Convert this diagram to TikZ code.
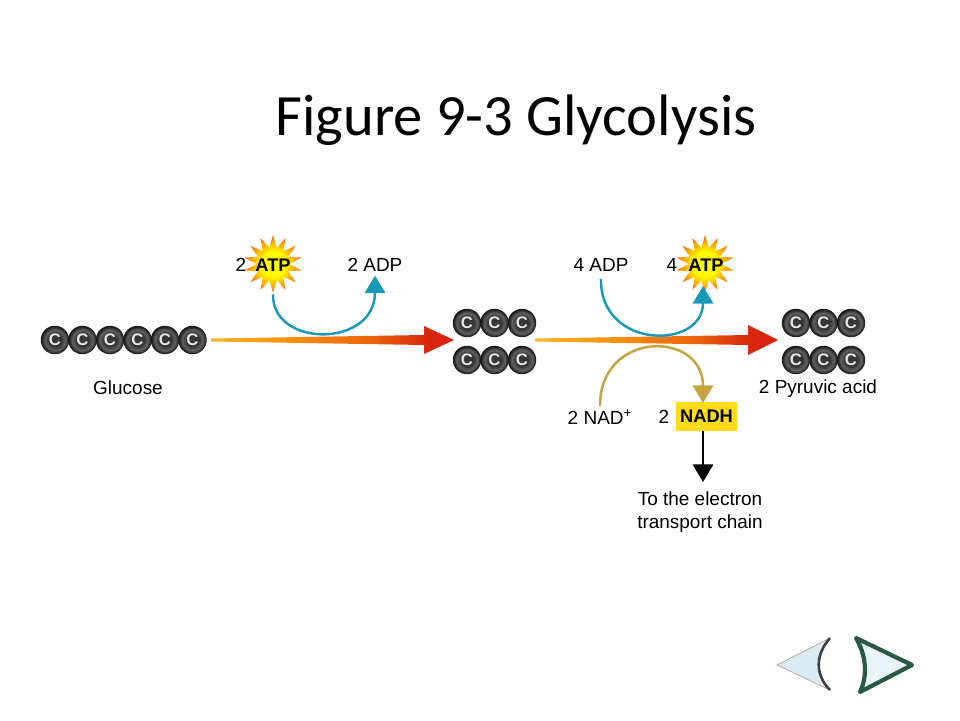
\documentclass[tikz,border=0pt]{standalone}
\usepackage{fontspec}
\setmainfont{Liberation Sans}
\newfontfamily\titlefont{Carlito}
\usepackage{tikz}
\usetikzlibrary{shapes.geometric,arrows.meta,calc}
\definecolor{ring teal}{rgb}{0.1, 0.6, 0.72}
\definecolor{ring gold}{rgb}{0.78, 0.64, 0.25}
\definecolor{nadh yellow}{rgb}{1.0, 0.86, 0.1}
\definecolor{nav blue}{rgb}{0.86, 0.92, 0.95}
\definecolor{nav green}{rgb}{0.16, 0.35, 0.27}
\definecolor{ramp gold}{rgb}{0.95, 0.72, 0.15}
\definecolor{ramp orange}{rgb}{0.97, 0.56, 0.05}
\definecolor{ramp red}{rgb}{0.84, 0.14, 0.05}
\pgfdeclareradialshading{carbon}{\pgfpoint{0bp}{0bp}}{%
	color(0bp)=(black!78!white);
	color(11bp)=(black!80!white);
	color(18bp)=(black!62!white);
	color(24bp)=(black!90!white);
	color(50bp)=(black!90!white)}
\pgfdeclareradialshading{flare}{\pgfpoint{0bp}{0bp}}{%
	color(0bp)=(yellow);
	color(11bp)=(yellow!95!orange);
	color(24bp)=(orange!90!red);
	color(50bp)=(orange!90!red)}
\pgfdeclarehorizontalshading{ramp fade}{100bp}{%
	color(0bp)=(ramp gold);
	color(25bp)=(ramp gold);
	color(42bp)=(ramp orange);
	color(58bp)=(ramp orange!60!ramp red);
	color(70bp)=(ramp red);
	color(100bp)=(ramp red)}
\tikzset{
	ball/.style = {circle, shading=carbon, minimum size=16.2pt, inner sep=0pt,
		text=black!10, font=\bfseries\fontsize{9.5}{10}\selectfont},
	lbl/.style = {inner sep=2pt, font=\fontsize{10.8}{12}\selectfont},
	burst/.style = {star, star points=14, star point ratio=1.75, minimum size=33pt,
		inner sep=0pt, shading=flare},
	teal curve/.style = {draw=ring teal, line width=1.4pt,
		-{Triangle[length=10pt,width=11.5pt]}},
	gold curve/.style = {draw=ring gold, line width=1.4pt,
		-{Triangle[length=10pt,width=11.5pt]}},
	ramp/.style = {shading=ramp fade}
}
\begin{document}
\begin{tikzpicture}[x=0.02cm, y=-0.02cm]
	\useasboundingbox (0, 0) rectangle (960, 720);
	\node[font=\titlefont\fontsize{33.3}{35}\selectfont] (title) at (516, 120) {Figure 9-3 Glycolysis};
	% glucose chain
	\foreach \name/\x in {g1/55, g2/82.5, g3/110, g4/137.5, g5/165, g6/192.5}
		\node[ball] (\name) at (\x, 340) {C};
	% middle and right carbons
	\foreach \name/\x in {a1/467, a2/494.5, a3/522} {
		\node[ball] (\name) at (\x, 323) {C};
		\node[ball] (\name b) at (\x, 360) {C};
	}
	\foreach \name/\x in {p1/796, p2/823.5, p3/851} {
		\node[ball] (\name) at (\x, 323) {C};
		\node[ball] (\name b) at (\x, 360) {C};
	}
	% labels
	\node[lbl] (glucose) at (128, 388) {Glucose};
	\node[lbl] (pyruvic) at (818, 389) {2 Pyruvic acid};
	\node[lbl, align=center, font=\fontsize{10.8}{13}\selectfont] (chain) at (700, 512) {To the electron\\transport chain};
	% bursts
	\node[burst] (burstA) at (273, 264) {};
	\node[burst] (burstB) at (705, 264) {};
	\node[lbl, font=\bfseries\fontsize{10.4}{12}\selectfont] (atpA) at (273, 265) {ATP};
	\node[lbl, font=\bfseries\fontsize{10.4}{12}\selectfont] (atpB) at (706, 265) {ATP};
	\node[lbl] (twoA) at (241, 265) {2};
	\node[lbl] (fourB) at (672, 265) {4};
	\node[lbl] (adpA) at (375, 265) {2 ADP};
	\node[lbl] (adpB) at (601, 265) {4 ADP};
	% NAD part
	\node[lbl] (nad) at (600, 417) {2 NAD\textsuperscript{+}};
	\node[lbl] (twoN) at (664, 417) {2};
	\node[fill=nadh yellow, minimum width=34.5pt, minimum height=16.5pt, inner sep=0pt,
		font=\bfseries\fontsize{10.4}{12}\selectfont] (nadh) at (706.5, 416.5) {NADH};
	% free ends
	\coordinate (arrowA) at (211, 340);
	\coordinate (tipA) at (454, 340);
	\coordinate (arrowB) at (535, 340);
	\coordinate (tipB) at (778, 340);
	\coordinate (atpIn) at (703, 286);
	\coordinate (nadhIn) at (703, 403);
	\coordinate (nadhOut) at (703, 431);
	\coordinate (chainIn) at (703, 482);
	% big arrows
	\shade[ramp] (arrowA) ++(0, -1.5) -- ($(tipA)+(-30, -5)$) -- ($(tipA)+(-30, -14)$) -- (tipA)
		-- ($(tipA)+(-30, 14)$) -- ($(tipA)+(-30, 5)$) -- ($(arrowA)+(0, 1.5)$) -- cycle;
	\shade[ramp] (arrowB) ++(0, -1.5) -- ($(tipB)+(-30, -5)$) -- ($(tipB)+(-30, -15)$) -- (tipB)
		-- ($(tipB)+(-30, 15)$) -- ($(tipB)+(-30, 5)$) -- ($(arrowB)+(0, 1.5)$) -- cycle;
	% curved arrows
	\draw[teal curve] (burstA.south) .. controls (272, 348) and (375, 348) .. (adpA.south);
	\draw[teal curve, shorten <=2pt] (adpB.south) .. controls (600, 350) and (703, 350) .. (atpIn);
	\draw[gold curve] (nad.north) .. controls (600, 330) and (703, 330) .. (nadhIn);
	\draw[black, line width=1.4pt, -{Triangle[length=10pt,width=11.5pt]}] (nadhOut) -- (chainIn);
	% nav buttons
	\fill[nav blue] (777, 665) -- (830, 638) .. controls (815, 655) and (815, 675) .. (830, 690) -- cycle;
	\draw[gray!70, line width=0.4pt] (830, 638) -- (777, 665) -- (830, 690);
	\draw[black!75, line width=1.5pt] (830, 638) .. controls (815, 655) and (815, 675) .. (830, 690);
	\draw[nav green, fill=nav blue!60!white, line width=2.4pt, line join=round]
		(856, 638) -- (912, 665) -- (860, 692) .. controls (868, 675) and (866, 655) .. cycle;
\end{tikzpicture}
\end{document}
